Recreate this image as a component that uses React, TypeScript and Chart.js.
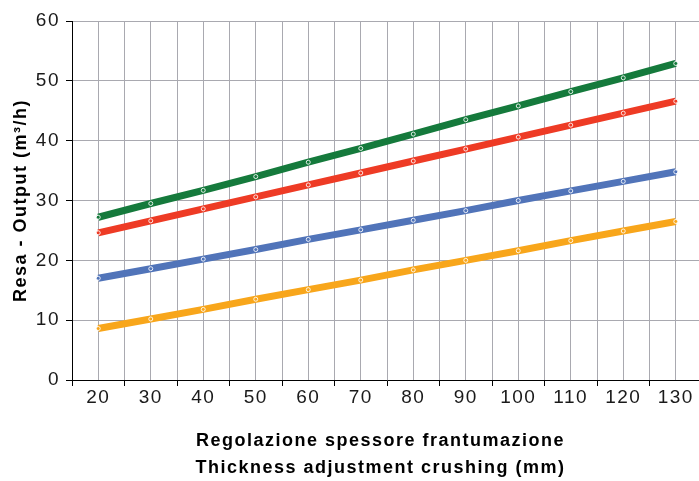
import React, { useEffect, useRef } from "react";
import { Chart, registerables } from "chart.js";

Chart.register(...registerables);

// Regolazione spessore (mm)
const categories: number[] = [20, 30, 40, 50, 60, 70, 80, 90, 100, 110, 120, 130];
const greenSeries: number[] = [27.2, 29.5, 31.7, 34.0, 36.4, 38.7, 41.1, 43.5, 45.8, 48.2, 50.5, 52.9];
const redSeries: number[] = [24.6, 26.6, 28.6, 30.6, 32.6, 34.6, 36.6, 38.6, 40.6, 42.6, 44.6, 46.6];
const blueSeries: number[] = [17.0, 18.6, 20.2, 21.8, 23.5, 25.1, 26.7, 28.3, 30.0, 31.6, 33.2, 34.8];
const orangeSeries: number[] = [8.6, 10.2, 11.8, 13.5, 15.1, 16.7, 18.4, 20.0, 21.6, 23.3, 24.9, 26.5];
const yTicks: number[] = [0, 10, 20, 30, 40, 50, 60];
const xTitle: string[] = ["Regolazione spessore frantumazione  ", "Thickness adjustment crushing (mm)  "];
const yTitle = "Resa - Output (m³/h)";

const FONT = "'Liberation Sans', Arial, Helvetica, sans-serif";
const GRID = "#a9a9b0";

const spacingPlugin = {
  id: "letterSpacing",
  beforeUpdate(chart: any) {
    chart.ctx.letterSpacing = "1.5px";
  },
  beforeLayout(chart: any) {
    chart.ctx.letterSpacing = "1.5px";
  },
  beforeDraw(chart: any) {
    chart.ctx.letterSpacing = "1.5px";
  },
};

export default function App() {
  const ref = useRef<HTMLCanvasElement | null>(null);

  useEffect(() => {
    if (!ref.current) return;
    const half = (categories[1] - categories[0]) / 2;
    const xMin = categories[0] - half;
    const xMax = categories[categories.length - 1] + half;
    const mk = (vals: number[]) => vals.map((v, i) => ({ x: categories[i], y: v }));
    const ds = (label: string, vals: number[], color: string) => ({
      label,
      data: mk(vals),
      borderColor: color,
      backgroundColor: color,
      borderWidth: 7,
      pointRadius: 2,
      pointBorderWidth: 1,
      pointBackgroundColor: color,
      pointBorderColor: "rgba(255,255,255,0.85)",
      tension: 0,
      fill: false,
    });

    const chart = new Chart(ref.current, {
      type: "line",
      data: {
        datasets: [
          ds("A", greenSeries, "#157a3c"),
          ds("B", redSeries, "#ee3b25"),
          ds("C", blueSeries, "#5174b9"),
          ds("D", orangeSeries, "#f8a61b"),
        ],
      },
      plugins: [spacingPlugin],
      options: {
        animation: false,
        responsive: false,
        maintainAspectRatio: false,
        devicePixelRatio: 1,
        layout: { autoPadding: false, padding: { top: 21, right: 0, left: 0, bottom: 0 } },
        plugins: { legend: { display: false }, tooltip: { enabled: false } },
        scales: {
          x: {
            type: "linear",
            min: xMin,
            max: xMax,
            afterBuildTicks: (scale: any) => {
              const t: any[] = [];
              categories.forEach((c) => {
                t.push({ value: c - half });
                t.push({ value: c });
              });
              scale.ticks = t;
            },
            afterFit: (scale: any) => {
              scale.height = 101;
              scale.paddingRight = 0;
              scale.paddingLeft = 0;
            },
            border: { display: true, color: "#000", width: 1 },
            grid: {
              color: (ctx: any) => (ctx.tick && ctx.tick.value === xMin ? "rgba(0,0,0,0)" : GRID),
              tickColor: (ctx: any) =>
                ctx.tick && categories.includes(ctx.tick.value) ? "rgba(0,0,0,0)" : "#000",
              tickLength: 6,
              lineWidth: 1,
            },
            ticks: {
              autoSkip: false,
              maxRotation: 0,
              padding: 0,
              color: "#1a1a1a",
              font: { family: FONT, size: 19 },
              callback: (v: any) => (categories.includes(Number(v)) ? String(v) : ""),
            },
            title: {
              display: true,
              text: xTitle,
              color: "#000",
              font: { family: FONT, size: 18, weight: "bold", lineHeight: 1.47 },
              padding: { top: 0, bottom: 0 },
            },
          },
          y: {
            type: "linear",
            min: yTicks[0],
            max: yTicks[yTicks.length - 1],
            afterBuildTicks: (scale: any) => {
              scale.ticks = yTicks.map((v) => ({ value: v }));
            },
            afterFit: (scale: any) => {
              scale.width = 72;
            },
            border: { display: true, color: "#000", width: 1 },
            grid: {
              color: (ctx: any) => (ctx.tick && ctx.tick.value === 0 ? "rgba(0,0,0,0)" : GRID),
              tickColor: "#000",
              tickLength: 6,
              lineWidth: 1,
            },
            ticks: {
              padding: 6,
              color: "#1a1a1a",
              font: { family: FONT, size: 19 },
            },
            title: {
              display: true,
              text: yTitle,
              color: "#000",
              font: { family: FONT, size: 18, weight: "bold", lineHeight: 1.2 },
              padding: { top: 10, bottom: 0 },
            },
          },
        },
      },
    } as any);
    return () => chart.destroy();
  }, []);

  return (
    <div
      style={{
        position: "absolute",
        left: 0,
        top: 0,
        width: 699,
        height: 481,
        overflow: "hidden",
        background: "#fff",
      }}
    >
      <canvas ref={ref} width={702} height={481} style={{ display: "block", width: 702, height: 481 }} />
    </div>
  );
}
